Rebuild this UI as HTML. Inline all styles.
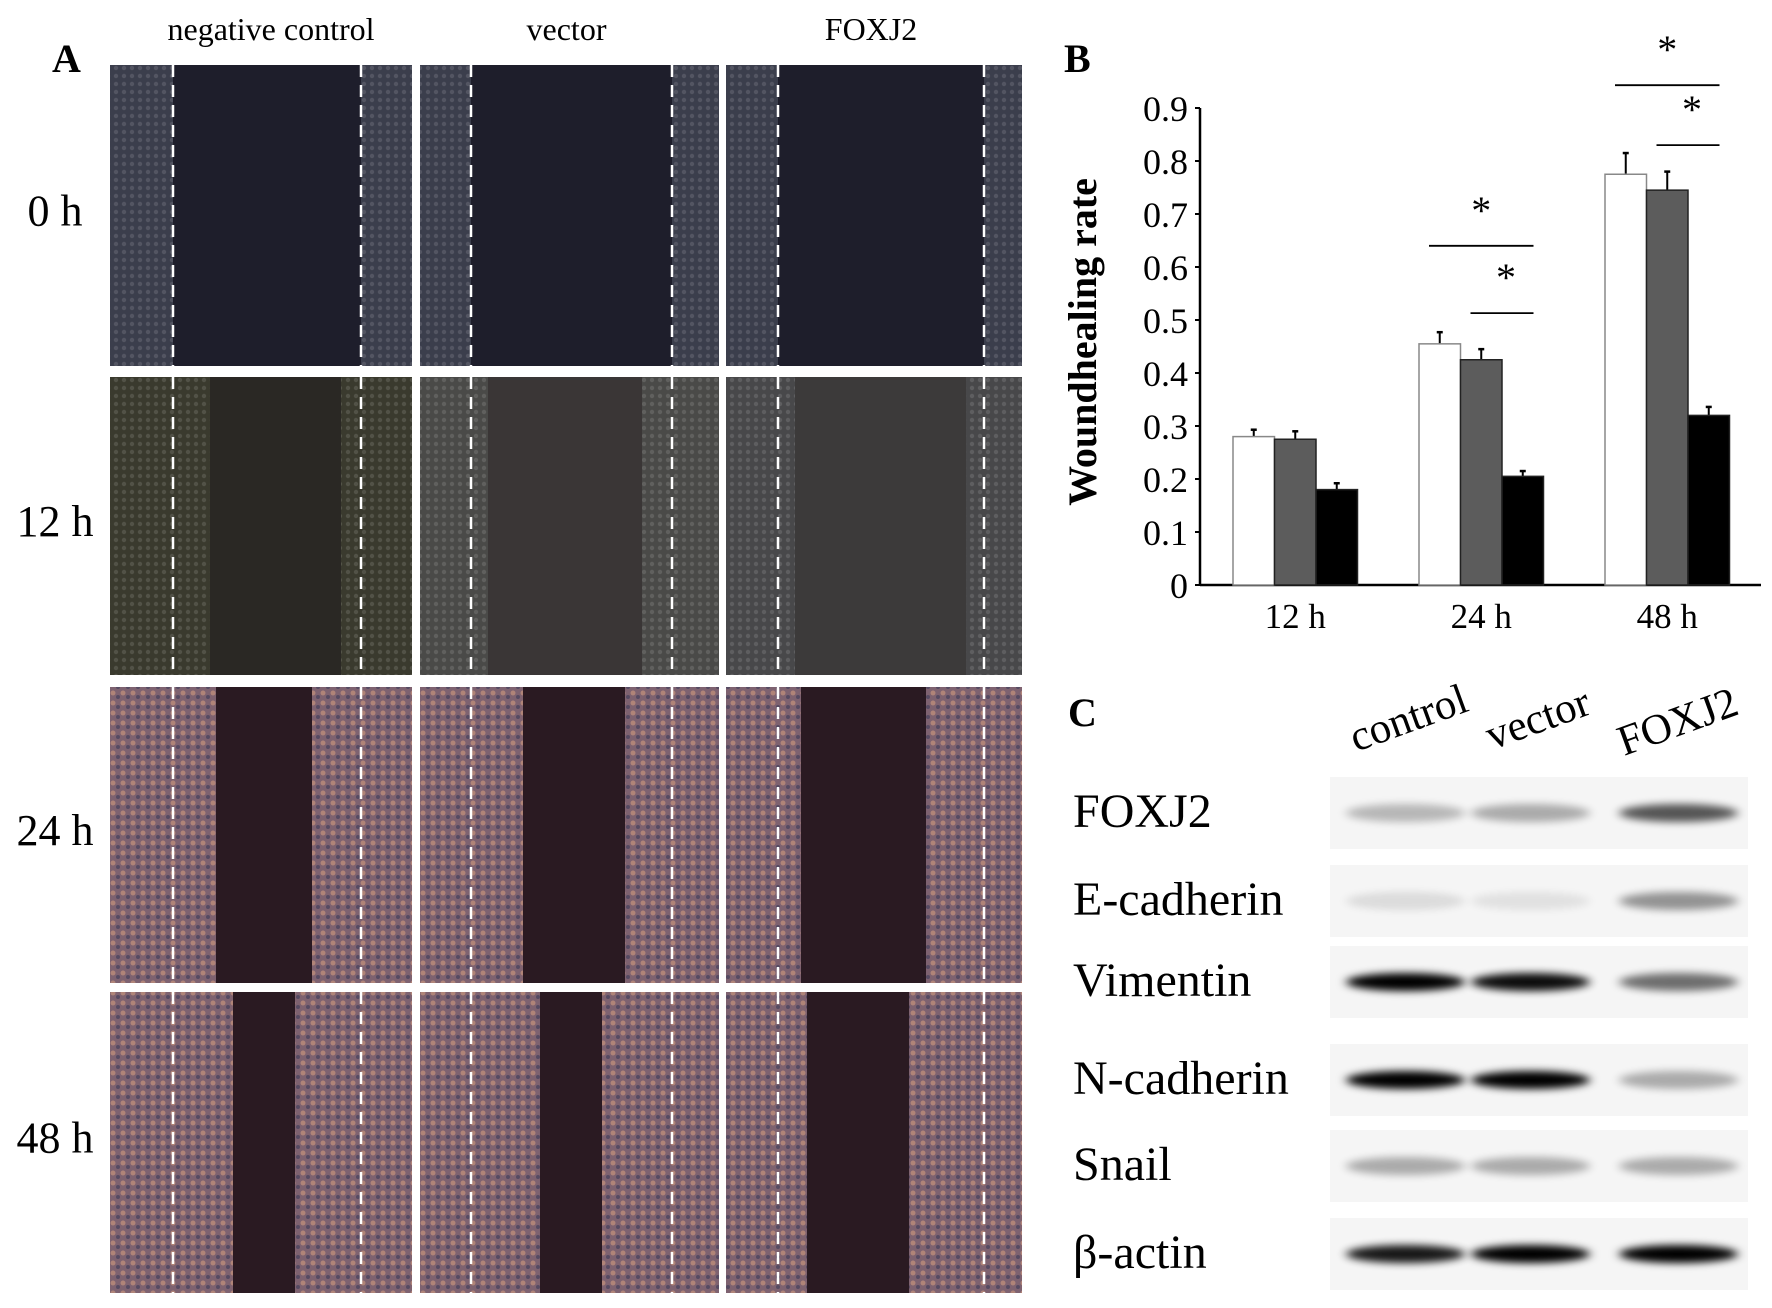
<!DOCTYPE html>
<html><head><meta charset="utf-8"><style>
html,body{margin:0;padding:0;background:#fff}
svg{display:block}
text{font-family:"Liberation Serif",serif;fill:#000}
</style></head><body>
<svg width="1772" height="1308" viewBox="0 0 1772 1308">
<defs>
<filter id="blur" x="-20%" y="-100%" width="140%" height="300%"><feGaussianBlur stdDeviation="5 4"/></filter>
<pattern id="cells" width="8" height="8" patternUnits="userSpaceOnUse"><circle cx="4" cy="4" r="2.2" fill="#fff" opacity="0.12"/></pattern>
<pattern id="pink" width="10" height="10" patternUnits="userSpaceOnUse"><rect width="10" height="10" fill="#7e6270"/><circle cx="3" cy="3" r="2.5" fill="#b08478"/><circle cx="8" cy="7" r="2" fill="#554a62"/></pattern>
</defs>
<g id="panelA"></g>
<g id="panelB"></g>
<g id="panelC"></g>
</svg>
<script>
const NS='http://www.w3.org/2000/svg';
function mk(tag,attrs,parent,txt){const e=document.createElementNS(NS,tag);for(const k in attrs)e.setAttribute(k,attrs[k]);if(txt!==undefined)e.textContent=txt;parent.appendChild(e);return e;}

// ---------- Panel A ----------
const A=document.getElementById('panelA');
const colX=[[110,412],[420,719],[726,1022]];
const rowY=[[65,366],[377,675],[687,983],[992,1293]];
const dashX=[[173,361],[471,672],[778,984]];
const gaps=[[[173,361],[471,672],[778,984]],[[210,341],[488,642],[795,966]],[[216,312],[523,625],[801,926]],[[233,295],[540,602],[807,909]]];
const cellCol=[['#3b3e4c','#3b3e4c','#3b3e4c'],['#3a3a2e','#4a4a48','#48484a'],['url(#pink)','url(#pink)','url(#pink)'],['url(#pink)','url(#pink)','url(#pink)']];
const gapCol=[['#1e1e2b','#1e1e2b','#1e1e2b'],['#2a2824','#3a3636','#3c3a3a'],['#2a1a22','#2a1a22','#2a1a22'],['#2a1a22','#2a1a22','#2a1a22']];
const rowLabels=['0 h','12 h','24 h','48 h'];
const colLabels=['negative control','vector','FOXJ2'];
let t=mk('text',{x:52,y:72,'font-size':40,'font-weight':'bold'},A,'A');

colLabels.forEach((l,i)=>{const e=mk('text',{x:(colX[i][0]+colX[i][1])/2+(i==0?10:-3),y:40,'font-size':32,'text-anchor':'middle'},A,l);
});
rowY.forEach((ry,r)=>{
  const e=mk('text',{x:55,y:(ry[0]+ry[1])/2+10,'font-size':44,'text-anchor':'middle'},A,rowLabels[r]);
  
  colX.forEach((cx,c)=>{
    const g=mk('g',{},A);
    
    mk('rect',{x:cx[0],y:ry[0],width:cx[1]-cx[0],height:ry[1]-ry[0],fill:cellCol[r][c]},g);
    if(r<2)mk('rect',{x:cx[0],y:ry[0],width:cx[1]-cx[0],height:ry[1]-ry[0],fill:'url(#cells)'},g);
    mk('rect',{x:gaps[r][c][0],y:ry[0],width:gaps[r][c][1]-gaps[r][c][0],height:ry[1]-ry[0],fill:gapCol[r][c]},g);
    dashX[c].forEach(dx=>mk('line',{x1:dx,x2:dx,y1:ry[0],y2:ry[1],stroke:'#fff','stroke-width':2.5,'stroke-dasharray':'12 8'},g));
  });
});

// ---------- Panel B ----------
const categories=['12 h','24 h','48 h'];
const seriesControl=[0.28,0.455,0.775];
const seriesVector=[0.275,0.425,0.745];
const seriesFOXJ2=[0.18,0.205,0.32];
const errControl=[0.013,0.022,0.04];
const errVector=[0.015,0.02,0.035];
const errFOXJ2=[0.012,0.01,0.016];
const yTicks=[0,0.1,0.2,0.3,0.4,0.5,0.6,0.7,0.8,0.9];
const B=document.getElementById('panelB');
const x0=1200,x1=1761,y0=585,yTop=108,yMax=0.9;
const ys=v=>y0-(v/yMax)*(y0-yTop);
const groupStart=i=>1233+i*186;
const barW=41.5;
t=mk('text',{x:1064,y:72,'font-size':40,'font-weight':'bold'},B,'B');

let ax=mk('line',{x1:x0,x2:x0,y1:yTop,y2:y0,stroke:'#000','stroke-width':2.5},B);

ax=mk('line',{x1:x0,x2:x1,y1:y0,y2:y0,stroke:'#000','stroke-width':2.5},B);

yTicks.forEach(v=>{
  mk('line',{x1:x0-5,x2:x0,y1:ys(v),y2:ys(v),stroke:'#000','stroke-width':2},B);
  const e=mk('text',{x:x0-12,y:ys(v)+13,'font-size':36,'text-anchor':'end'},B,String(v));
  
});
const yt=mk('text',{x:0,y:0,'font-size':40,'font-weight':'bold','text-anchor':'middle',transform:'translate(1096,342) rotate(-90)'},B,'Woundhealing rate');

const series=[[seriesControl,errControl,'#fff'],[seriesVector,errVector,'#5c5c5c'],[seriesFOXJ2,errFOXJ2,'#000']];
categories.forEach((c,i)=>{
  const e=mk('text',{x:groupStart(i)+barW*1.5,y:y0+43,'font-size':35,'text-anchor':'middle'},B,c);
  
  series.forEach((s,k)=>{
    const bx=groupStart(i)+k*barW,v=s[0][i],er=s[1][i];
    const ex=bx+barW/2;
    const el=mk('line',{x1:ex,x2:ex,y1:ys(v),y2:ys(v+er),stroke:'#000','stroke-width':2},B);
    
    mk('line',{x1:ex-3,x2:ex+3,y1:ys(v+er),y2:ys(v+er),stroke:'#000','stroke-width':2.5},B);
    const r=mk('rect',{x:bx,y:ys(v),width:barW,height:y0-ys(v),fill:s[2],stroke:k==0?'#888':'#222','stroke-width':1.5},B);
    
  });
});
const sig=[[1,0.64,0,2],[1,0.513,1,2],[2,0.943,0,2],[2,0.83,1,2]];
sig.forEach(s=>{
  const g=s[0],xa=groupStart(g)+s[2]*barW+10,xb=groupStart(g)+(s[3]+1)*barW-10;
  const l=mk('line',{x1:xa,x2:xb,y1:ys(s[1]),y2:ys(s[1]),stroke:'#000','stroke-width':1.8},B);
  
  const st=mk('text',{x:(xa+xb)/2+(s[2]==1?4:0),y:ys(s[1])-22,'font-size':40,'text-anchor':'middle'},B,'*');
  
});

// ---------- Panel C ----------
const C=document.getElementById('panelC');
const proteins=['FOXJ2','E-cadherin','Vimentin','N-cadherin','Snail','β-actin'];
const bandY=[813,901,982,1080,1166,1254];
const intensity=[[0.25,0.3,0.65],[0.1,0.08,0.4],[1,0.95,0.55],[1,1,0.3],[0.3,0.3,0.3],[0.9,1,1]];
const laneX=[[1346,1465],[1471,1590],[1619,1738]];
const laneNames=['control','vector','FOXJ2'];
t=mk('text',{x:1068,y:726,'font-size':40,'font-weight':'bold'},C,'C');

const lp=[[1356,752],[1492,750],[1624,756]];
laneNames.forEach((n,i)=>{const e=mk('text',{x:0,y:0,'font-size':43,transform:`translate(${lp[i][0]},${lp[i][1]}) rotate(-20)`},C,n);
});
proteins.forEach((p,r)=>{
  const e=mk('text',{x:1073,y:bandY[r]+14,'font-size':48},C,p);
  
  mk('rect',{x:1330,y:bandY[r]-36,width:418,height:72,fill:'#f5f5f5'},C);
  laneX.forEach((lx,c)=>{
    const b=mk('ellipse',{cx:(lx[0]+lx[1])/2,cy:bandY[r],rx:(lx[1]-lx[0])/2,ry:9,fill:'#000',opacity:intensity[r][c],filter:'url(#blur)'},C);
    
  });
});
</script>
</body></html>
